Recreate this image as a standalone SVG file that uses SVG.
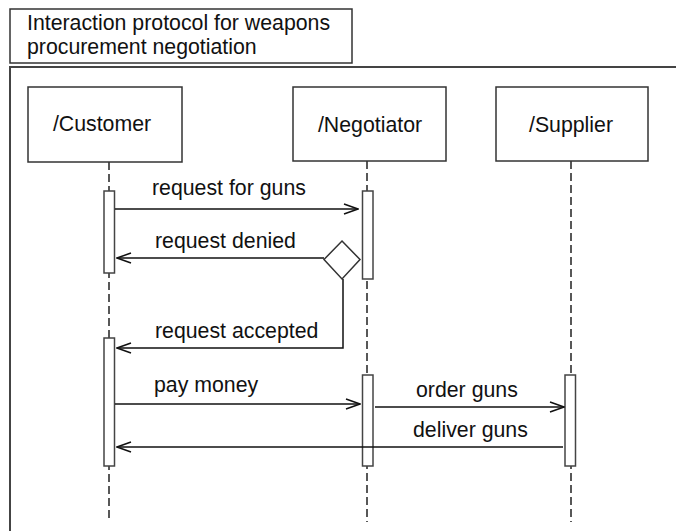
<svg xmlns="http://www.w3.org/2000/svg" width="676" height="531" viewBox="0 0 676 531">
<defs>
<style>
text{font-family:"Liberation Sans",Arial,sans-serif;font-size:21.3px;fill:#111}
.box{fill:#fff;stroke:#333;stroke-width:1.5}
.act{fill:#fff;stroke:#444;stroke-width:1.5}
.life{stroke:#222;stroke-width:1.5;stroke-dasharray:8 4;fill:none}
.msg{stroke:#111;stroke-width:1.5;fill:none}
.mid{text-anchor:middle}
</style>
<marker id="open" viewBox="0 0 16 12" refX="15" refY="6" markerWidth="16" markerHeight="12" markerUnits="userSpaceOnUse" orient="auto">
<path d="M1,1 L15,6 L1,11" fill="none" stroke="#111" stroke-width="1.5"/>
</marker>
</defs>
<rect width="676" height="531" fill="#fff"/>
<g id="frame">
<rect class="box" x="10" y="9" width="342" height="54"/>
<text x="27" y="30">Interaction protocol for weapons</text>
<text x="27" y="54">procurement negotiation</text>
<path d="M10,531 V67 H676" fill="none" stroke="#444" stroke-width="2"/>
</g>
<g id="lifelines">
<line class="life" x1="109" y1="162" x2="109" y2="522"/>
<line class="life" x1="367" y1="161" x2="367" y2="522"/>
<line class="life" x1="571" y1="161" x2="571" y2="522"/>
</g>
<g id="customer">
<rect class="box" x="28" y="87" width="154" height="75"/>
<text class="mid" x="102" y="131">/Customer</text>
</g>
<g id="negotiator">
<rect class="box" x="293" y="87" width="153" height="74"/>
<text class="mid" x="370" y="132">/Negotiator</text>
</g>
<g id="supplier">
<rect class="box" x="496" y="87" width="152" height="74"/>
<text class="mid" x="571" y="132">/Supplier</text>
</g>
<g id="activations">
<rect class="act" x="104" y="191" width="10.5" height="82"/>
<rect class="act" x="362.5" y="191" width="10.5" height="88"/>
<rect class="act" x="104" y="338" width="10.5" height="128"/>
<rect class="act" x="362.5" y="375" width="10.5" height="91"/>
<rect class="act" x="565" y="375" width="10.5" height="91"/>
</g>
<g id="decision">
<path class="box" d="M342,241 L360,259.5 L342,279 L324,259.5 Z"/>
</g>
<g id="connectors">
<line class="msg" x1="115" y1="209" x2="358" y2="209" marker-end="url(#open)"/>
<line class="msg" x1="324" y1="258" x2="117" y2="258" marker-end="url(#open)"/>
<path class="msg" d="M343,279 V348 H117" marker-end="url(#open)"/>
<line class="msg" x1="115" y1="404" x2="360" y2="404" marker-end="url(#open)"/>
<line class="msg" x1="375" y1="407" x2="564" y2="407" marker-end="url(#open)"/>
<line class="msg" x1="563" y1="447" x2="117" y2="447" marker-end="url(#open)"/>
</g>
<g id="labels">
<text x="152" y="195">request for guns</text>
<text x="155" y="248">request denied</text>
<text x="155" y="338">request accepted</text>
<text x="154" y="392">pay money</text>
<text x="416" y="397">order guns</text>
<text x="413" y="437">deliver guns</text>
</g>
</svg>
